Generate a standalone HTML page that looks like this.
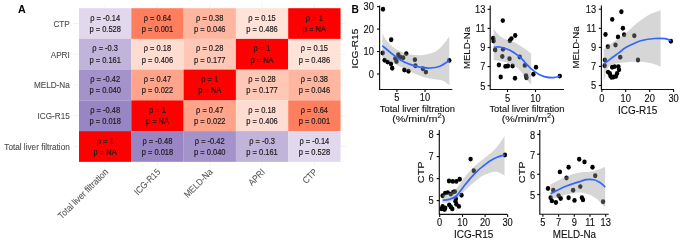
<!DOCTYPE html>
<html><head><meta charset="utf-8"><title>Figure</title>
<style>
html,body{margin:0;padding:0;background:#fff;}
body{width:685px;height:245px;overflow:hidden;font-family:"Liberation Sans", sans-serif;}
svg{display:block;will-change:transform;}
</style></head><body>
<svg width="685" height="245" viewBox="0 0 685 245">
<rect width="685" height="245" fill="#fff"/>
<line x1="105.15" y1="3.8" x2="105.15" y2="166.2" stroke="#EBEBEB" stroke-width="0.6"/>
<line x1="157.45" y1="3.8" x2="157.45" y2="166.2" stroke="#EBEBEB" stroke-width="0.6"/>
<line x1="209.75" y1="3.8" x2="209.75" y2="166.2" stroke="#EBEBEB" stroke-width="0.6"/>
<line x1="262.05" y1="3.8" x2="262.05" y2="166.2" stroke="#EBEBEB" stroke-width="0.6"/>
<line x1="314.35" y1="3.8" x2="314.35" y2="166.2" stroke="#EBEBEB" stroke-width="0.6"/>
<line x1="73.5" y1="23.55" x2="346" y2="23.55" stroke="#EBEBEB" stroke-width="0.6"/>
<line x1="73.5" y1="54.25" x2="346" y2="54.25" stroke="#EBEBEB" stroke-width="0.6"/>
<line x1="73.5" y1="85.00" x2="346" y2="85.00" stroke="#EBEBEB" stroke-width="0.6"/>
<line x1="73.5" y1="115.75" x2="346" y2="115.75" stroke="#EBEBEB" stroke-width="0.6"/>
<line x1="73.5" y1="146.45" x2="346" y2="146.45" stroke="#EBEBEB" stroke-width="0.6"/>
<rect x="79.00" y="8.20" width="52.35" height="30.75" fill="#E1D8ED"/>
<rect x="131.30" y="8.20" width="52.35" height="30.75" fill="#FF7E5E"/>
<rect x="183.60" y="8.20" width="52.35" height="30.75" fill="#FFB6A0"/>
<rect x="235.90" y="8.20" width="52.35" height="30.75" fill="#FFE2D8"/>
<rect x="288.20" y="8.20" width="52.35" height="30.75" fill="#FF0000"/>
<rect x="79.00" y="38.90" width="52.35" height="30.75" fill="#C1B4DA"/>
<rect x="131.30" y="38.90" width="52.35" height="30.75" fill="#FFDCD2"/>
<rect x="183.60" y="38.90" width="52.35" height="30.75" fill="#FFC8B6"/>
<rect x="235.90" y="38.90" width="52.35" height="30.75" fill="#FF0000"/>
<rect x="288.20" y="38.90" width="52.35" height="30.75" fill="#FFE2D8"/>
<rect x="79.00" y="69.60" width="52.35" height="30.85" fill="#A492CA"/>
<rect x="131.30" y="69.60" width="52.35" height="30.85" fill="#FFA48A"/>
<rect x="183.60" y="69.60" width="52.35" height="30.85" fill="#FF0000"/>
<rect x="235.90" y="69.60" width="52.35" height="30.85" fill="#FFC8B6"/>
<rect x="288.20" y="69.60" width="52.35" height="30.85" fill="#FFB6A0"/>
<rect x="79.00" y="100.40" width="52.35" height="30.75" fill="#9A85C4"/>
<rect x="131.30" y="100.40" width="52.35" height="30.75" fill="#FF0000"/>
<rect x="183.60" y="100.40" width="52.35" height="30.75" fill="#FFA48A"/>
<rect x="235.90" y="100.40" width="52.35" height="30.75" fill="#FFDCD2"/>
<rect x="288.20" y="100.40" width="52.35" height="30.75" fill="#FF7E5E"/>
<rect x="79.00" y="131.10" width="52.35" height="30.75" fill="#FF0000"/>
<rect x="131.30" y="131.10" width="52.35" height="30.75" fill="#9A85C4"/>
<rect x="183.60" y="131.10" width="52.35" height="30.75" fill="#A492CA"/>
<rect x="235.90" y="131.10" width="52.35" height="30.75" fill="#C1B4DA"/>
<rect x="288.20" y="131.10" width="52.35" height="30.75" fill="#E1D8ED"/>
<g font-family='"Liberation Sans", sans-serif' font-size="7.5" fill="#1a1a1a" stroke="#1a1a1a" stroke-width="0.15" text-anchor="middle">
<text transform="translate(105.15,20.65) scale(1,1.120)" x="0" y="0" text-anchor="middle">ρ = -0.14</text>
<text transform="translate(105.15,31.95) scale(1,1.120)" x="0" y="0" text-anchor="middle">p = 0.528</text>
<text transform="translate(157.45,20.65) scale(1,1.120)" x="0" y="0" text-anchor="middle">ρ = 0.64</text>
<text transform="translate(157.45,31.95) scale(1,1.120)" x="0" y="0" text-anchor="middle">p = 0.001</text>
<text transform="translate(209.75,20.65) scale(1,1.120)" x="0" y="0" text-anchor="middle">ρ = 0.38</text>
<text transform="translate(209.75,31.95) scale(1,1.120)" x="0" y="0" text-anchor="middle">p = 0.046</text>
<text transform="translate(262.05,20.65) scale(1,1.120)" x="0" y="0" text-anchor="middle">ρ = 0.15</text>
<text transform="translate(262.05,31.95) scale(1,1.120)" x="0" y="0" text-anchor="middle">p = 0.486</text>
<text transform="translate(314.35,20.65) scale(1,1.120)" x="0" y="0" text-anchor="middle">ρ = 1</text>
<text transform="translate(314.35,31.95) scale(1,1.120)" x="0" y="0" text-anchor="middle">p = NA</text>
<text transform="translate(105.15,51.35) scale(1,1.120)" x="0" y="0" text-anchor="middle">ρ = -0.3</text>
<text transform="translate(105.15,62.65) scale(1,1.120)" x="0" y="0" text-anchor="middle">p = 0.161</text>
<text transform="translate(157.45,51.35) scale(1,1.120)" x="0" y="0" text-anchor="middle">ρ = 0.18</text>
<text transform="translate(157.45,62.65) scale(1,1.120)" x="0" y="0" text-anchor="middle">p = 0.406</text>
<text transform="translate(209.75,51.35) scale(1,1.120)" x="0" y="0" text-anchor="middle">ρ = 0.28</text>
<text transform="translate(209.75,62.65) scale(1,1.120)" x="0" y="0" text-anchor="middle">p = 0.177</text>
<text transform="translate(262.05,51.35) scale(1,1.120)" x="0" y="0" text-anchor="middle">ρ = 1</text>
<text transform="translate(262.05,62.65) scale(1,1.120)" x="0" y="0" text-anchor="middle">p = NA</text>
<text transform="translate(314.35,51.35) scale(1,1.120)" x="0" y="0" text-anchor="middle">ρ = 0.15</text>
<text transform="translate(314.35,62.65) scale(1,1.120)" x="0" y="0" text-anchor="middle">p = 0.486</text>
<text transform="translate(105.15,82.10) scale(1,1.120)" x="0" y="0" text-anchor="middle">ρ = -0.42</text>
<text transform="translate(105.15,93.40) scale(1,1.120)" x="0" y="0" text-anchor="middle">p = 0.040</text>
<text transform="translate(157.45,82.10) scale(1,1.120)" x="0" y="0" text-anchor="middle">ρ = 0.47</text>
<text transform="translate(157.45,93.40) scale(1,1.120)" x="0" y="0" text-anchor="middle">p = 0.022</text>
<text transform="translate(209.75,82.10) scale(1,1.120)" x="0" y="0" text-anchor="middle">ρ = 1</text>
<text transform="translate(209.75,93.40) scale(1,1.120)" x="0" y="0" text-anchor="middle">p = NA</text>
<text transform="translate(262.05,82.10) scale(1,1.120)" x="0" y="0" text-anchor="middle">ρ = 0.28</text>
<text transform="translate(262.05,93.40) scale(1,1.120)" x="0" y="0" text-anchor="middle">p = 0.177</text>
<text transform="translate(314.35,82.10) scale(1,1.120)" x="0" y="0" text-anchor="middle">ρ = 0.38</text>
<text transform="translate(314.35,93.40) scale(1,1.120)" x="0" y="0" text-anchor="middle">p = 0.046</text>
<text transform="translate(105.15,112.85) scale(1,1.120)" x="0" y="0" text-anchor="middle">ρ = -0.48</text>
<text transform="translate(105.15,124.15) scale(1,1.120)" x="0" y="0" text-anchor="middle">p = 0.018</text>
<text transform="translate(157.45,112.85) scale(1,1.120)" x="0" y="0" text-anchor="middle">ρ = 1</text>
<text transform="translate(157.45,124.15) scale(1,1.120)" x="0" y="0" text-anchor="middle">p = NA</text>
<text transform="translate(209.75,112.85) scale(1,1.120)" x="0" y="0" text-anchor="middle">ρ = 0.47</text>
<text transform="translate(209.75,124.15) scale(1,1.120)" x="0" y="0" text-anchor="middle">p = 0.022</text>
<text transform="translate(262.05,112.85) scale(1,1.120)" x="0" y="0" text-anchor="middle">ρ = 0.18</text>
<text transform="translate(262.05,124.15) scale(1,1.120)" x="0" y="0" text-anchor="middle">p = 0.406</text>
<text transform="translate(314.35,112.85) scale(1,1.120)" x="0" y="0" text-anchor="middle">ρ = 0.64</text>
<text transform="translate(314.35,124.15) scale(1,1.120)" x="0" y="0" text-anchor="middle">p = 0.001</text>
<text transform="translate(105.15,143.55) scale(1,1.120)" x="0" y="0" text-anchor="middle">ρ = 1</text>
<text transform="translate(105.15,154.85) scale(1,1.120)" x="0" y="0" text-anchor="middle">p = NA</text>
<text transform="translate(157.45,143.55) scale(1,1.120)" x="0" y="0" text-anchor="middle">ρ = -0.48</text>
<text transform="translate(157.45,154.85) scale(1,1.120)" x="0" y="0" text-anchor="middle">p = 0.018</text>
<text transform="translate(209.75,143.55) scale(1,1.120)" x="0" y="0" text-anchor="middle">ρ = -0.42</text>
<text transform="translate(209.75,154.85) scale(1,1.120)" x="0" y="0" text-anchor="middle">p = 0.040</text>
<text transform="translate(262.05,143.55) scale(1,1.120)" x="0" y="0" text-anchor="middle">ρ = -0.3</text>
<text transform="translate(262.05,154.85) scale(1,1.120)" x="0" y="0" text-anchor="middle">p = 0.161</text>
<text transform="translate(314.35,143.55) scale(1,1.120)" x="0" y="0" text-anchor="middle">ρ = -0.14</text>
<text transform="translate(314.35,154.85) scale(1,1.120)" x="0" y="0" text-anchor="middle">p = 0.528</text>
</g>
<g font-family='"Liberation Sans", sans-serif' font-size="8.2" fill="#4a4a4a" stroke="#4a4a4a" stroke-width="0.08" text-anchor="end">
<text transform="translate(69.80,26.95) scale(1,1.120)" x="0" y="0" text-anchor="end">CTP</text>
<text transform="translate(69.80,57.65) scale(1,1.120)" x="0" y="0" text-anchor="end">APRI</text>
<text transform="translate(69.80,88.40) scale(1,1.120)" x="0" y="0" text-anchor="end">MELD-Na</text>
<text transform="translate(69.80,119.15) scale(1,1.120)" x="0" y="0" text-anchor="end">ICG-R15</text>
<text transform="translate(69.80,149.85) scale(1,1.120)" x="0" y="0" text-anchor="end">Total liver filtration</text>
</g>
<g font-family='"Liberation Sans", sans-serif' font-size="8.3" fill="#555" stroke="#555" stroke-width="0.06" text-anchor="end">
<text transform="translate(104.15,168.00) rotate(-45) scale(1,1.120)" x="0" y="5.8">Total liver filtration</text>
<text transform="translate(156.45,168.00) rotate(-45) scale(1,1.120)" x="0" y="5.8">ICG-R15</text>
<text transform="translate(208.75,168.00) rotate(-45) scale(1,1.120)" x="0" y="5.8">MELD-Na</text>
<text transform="translate(261.05,168.00) rotate(-45) scale(1,1.120)" x="0" y="5.8">APRI</text>
<text transform="translate(313.35,168.00) rotate(-45) scale(1,1.120)" x="0" y="5.8">CTP</text>
</g>
<text x="18.1" y="12.7" font-family='"Liberation Sans", sans-serif' font-size="10.7" font-weight="bold" fill="#000">A</text>
<ellipse cx="383.00" cy="9.20" rx="2.20" ry="2.45" fill="#000"/>
<ellipse cx="391.20" cy="39.80" rx="2.20" ry="2.45" fill="#000"/>
<ellipse cx="382.70" cy="53.00" rx="2.20" ry="2.45" fill="#000"/>
<ellipse cx="406.30" cy="53.60" rx="2.20" ry="2.45" fill="#000"/>
<ellipse cx="398.30" cy="54.80" rx="2.20" ry="2.45" fill="#000"/>
<ellipse cx="400.20" cy="57.20" rx="2.20" ry="2.45" fill="#000"/>
<ellipse cx="403.20" cy="57.80" rx="2.20" ry="2.45" fill="#000"/>
<ellipse cx="395.30" cy="58.50" rx="2.20" ry="2.45" fill="#000"/>
<ellipse cx="396.50" cy="61.50" rx="2.20" ry="2.45" fill="#000"/>
<ellipse cx="384.60" cy="60.30" rx="2.20" ry="2.45" fill="#000"/>
<ellipse cx="387.60" cy="62.10" rx="2.20" ry="2.45" fill="#000"/>
<ellipse cx="391.00" cy="64.00" rx="2.20" ry="2.45" fill="#000"/>
<ellipse cx="392.20" cy="68.20" rx="2.20" ry="2.45" fill="#000"/>
<ellipse cx="404.40" cy="70.00" rx="2.20" ry="2.45" fill="#000"/>
<ellipse cx="408.50" cy="71.20" rx="2.20" ry="2.45" fill="#000"/>
<ellipse cx="414.90" cy="59.70" rx="2.20" ry="2.45" fill="#000"/>
<ellipse cx="415.40" cy="65.70" rx="2.20" ry="2.45" fill="#000"/>
<ellipse cx="422.90" cy="68.70" rx="2.20" ry="2.45" fill="#000"/>
<ellipse cx="425.90" cy="72.10" rx="2.20" ry="2.45" fill="#000"/>
<ellipse cx="449.30" cy="60.40" rx="2.20" ry="2.45" fill="#000"/>
<path d="M382.30,33.60 C383.02,34.78 384.93,38.57 386.60,40.70 C388.27,42.83 390.17,44.68 392.30,46.40 C394.43,48.12 397.02,49.77 399.40,51.00 C401.78,52.23 403.02,53.10 406.60,53.80 C410.18,54.50 416.15,55.53 420.90,55.20 C425.65,54.87 431.42,53.53 435.10,51.80 C438.78,50.07 440.63,47.35 443.00,44.80 C445.37,42.25 448.25,37.88 449.30,36.50 L449.30,85.30  C448.42,84.62 445.88,82.12 444.00,81.20 C442.12,80.28 440.33,80.25 438.00,79.80 C435.67,79.35 432.33,78.93 430.00,78.50 C427.67,78.07 426.17,77.85 424.00,77.20 C421.83,76.55 419.33,75.58 417.00,74.60 C414.67,73.62 412.17,72.35 410.00,71.30 C407.83,70.25 406.33,69.43 404.00,68.30 C401.67,67.17 398.33,65.63 396.00,64.50 C393.67,63.37 392.28,62.62 390.00,61.50 C387.72,60.38 383.58,58.42 382.30,57.80 Z" fill="#999999" fill-opacity="0.4"/>
<path d="M382.30,45.70 C383.97,47.08 389.20,51.57 392.30,54.00 C395.40,56.43 397.95,58.57 400.90,60.30 C403.85,62.03 406.82,63.25 410.00,64.40 C413.18,65.55 416.67,66.60 420.00,67.20 C423.33,67.80 426.67,68.17 430.00,68.00 C433.33,67.83 436.78,67.43 440.00,66.20 C443.22,64.97 447.75,61.53 449.30,60.60" fill="none" stroke="#3366FF" stroke-width="1.7"/>
<path d="M379.60,5.50 V89.45 H452.30" fill="none" stroke="#111" stroke-width="1.15"/>
<line x1="377.00" y1="74.00" x2="379.60" y2="74.00" stroke="#111" stroke-width="1.15"/>
<line x1="377.00" y1="51.55" x2="379.60" y2="51.55" stroke="#111" stroke-width="1.15"/>
<line x1="377.00" y1="29.10" x2="379.60" y2="29.10" stroke="#111" stroke-width="1.15"/>
<line x1="377.00" y1="6.65" x2="379.60" y2="6.65" stroke="#111" stroke-width="1.15"/>
<line x1="396.90" y1="89.45" x2="396.90" y2="92.05" stroke="#111" stroke-width="1.15"/>
<line x1="425.00" y1="89.45" x2="425.00" y2="92.05" stroke="#111" stroke-width="1.15"/>
<g font-family='"Liberation Sans", sans-serif' font-size="9.30" fill="#111" stroke="#111" stroke-width="0.12">
<text transform="translate(373.90,77.80) scale(1,1.150)" x="0" y="0" text-anchor="end">0</text>
<text transform="translate(373.90,55.35) scale(1,1.150)" x="0" y="0" text-anchor="end">10</text>
<text transform="translate(373.90,32.90) scale(1,1.150)" x="0" y="0" text-anchor="end">20</text>
<text transform="translate(373.90,10.45) scale(1,1.150)" x="0" y="0" text-anchor="end">30</text>
<text transform="translate(396.90,101.45) scale(1,1.150)" x="0" y="0" text-anchor="middle">5</text>
<text transform="translate(425.00,101.45) scale(1,1.150)" x="0" y="0" text-anchor="middle">10</text>
<text transform="translate(358.00,48.60) rotate(-90) scale(1.050,1)" x="0" y="0" text-anchor="middle" font-size="9.60">ICG-R15</text>
<text transform="translate(417.40,111.80) scale(1,1.030)" x="0" y="0" text-anchor="middle" font-size="9.40">Total liver filtration</text>
<text transform="translate(418.70,122.00) scale(1.120,1.020)" x="0" y="0" text-anchor="middle" font-size="9.60"><tspan>(%/min/m</tspan><tspan font-size="6.72" dy="-3.7">2</tspan><tspan dy="3.7">)</tspan></text>
</g>
<ellipse cx="502.80" cy="20.60" rx="2.20" ry="2.45" fill="#000"/>
<ellipse cx="493.20" cy="38.20" rx="2.20" ry="2.45" fill="#000"/>
<ellipse cx="493.60" cy="41.00" rx="2.20" ry="2.45" fill="#000"/>
<ellipse cx="509.80" cy="40.80" rx="2.20" ry="2.45" fill="#000"/>
<ellipse cx="511.40" cy="38.60" rx="2.20" ry="2.45" fill="#000"/>
<ellipse cx="515.20" cy="35.50" rx="2.20" ry="2.45" fill="#000"/>
<ellipse cx="495.20" cy="50.00" rx="2.20" ry="2.45" fill="#000"/>
<ellipse cx="503.00" cy="49.20" rx="2.20" ry="2.45" fill="#000"/>
<ellipse cx="502.30" cy="56.50" rx="2.20" ry="2.45" fill="#000"/>
<ellipse cx="509.50" cy="58.80" rx="2.20" ry="2.45" fill="#000"/>
<ellipse cx="519.70" cy="57.00" rx="2.20" ry="2.45" fill="#000"/>
<ellipse cx="498.90" cy="65.00" rx="2.20" ry="2.45" fill="#000"/>
<ellipse cx="505.40" cy="66.40" rx="2.20" ry="2.45" fill="#000"/>
<ellipse cx="507.90" cy="66.00" rx="2.20" ry="2.45" fill="#000"/>
<ellipse cx="512.60" cy="66.00" rx="2.20" ry="2.45" fill="#000"/>
<ellipse cx="524.80" cy="65.40" rx="2.20" ry="2.45" fill="#000"/>
<ellipse cx="536.00" cy="67.20" rx="2.20" ry="2.45" fill="#000"/>
<ellipse cx="500.70" cy="77.00" rx="2.20" ry="2.45" fill="#000"/>
<ellipse cx="515.00" cy="78.30" rx="2.20" ry="2.45" fill="#000"/>
<ellipse cx="526.00" cy="75.60" rx="2.20" ry="2.45" fill="#000"/>
<ellipse cx="526.50" cy="77.70" rx="2.20" ry="2.45" fill="#000"/>
<ellipse cx="533.40" cy="74.20" rx="2.20" ry="2.45" fill="#000"/>
<ellipse cx="559.80" cy="76.10" rx="2.20" ry="2.45" fill="#000"/>
<path d="M493.70,28.90 C494.32,29.68 495.97,32.15 497.40,33.60 C498.83,35.05 500.67,36.55 502.30,37.60 C503.93,38.65 505.17,39.07 507.20,39.90 C509.23,40.73 512.27,41.57 514.50,42.60 C516.73,43.63 518.55,44.82 520.60,46.10 C522.65,47.38 525.03,49.05 526.80,50.30 C528.57,51.55 530.47,53.05 531.20,53.60 L531.20,84.50  C530.53,83.80 528.68,82.15 527.20,80.30 C525.72,78.45 524.13,75.65 522.30,73.40 C520.47,71.15 518.85,68.65 516.20,66.80 C513.55,64.95 509.10,63.27 506.40,62.30 C503.70,61.33 502.12,61.38 500.00,61.00 C497.88,60.62 494.75,60.17 493.70,60.00 Z" fill="#999999" fill-opacity="0.4"/>
<path d="M493.70,47.40 C494.65,47.33 496.78,46.57 499.40,47.00 C502.02,47.43 506.07,48.40 509.40,50.00 C512.73,51.60 516.85,54.60 519.40,56.60 C521.95,58.60 523.27,60.50 524.70,62.00 C526.13,63.50 526.95,64.50 528.00,65.60 C529.05,66.70 529.82,67.55 531.00,68.60 C532.18,69.65 533.60,70.85 535.10,71.90 C536.60,72.95 538.33,74.08 540.00,74.90 C541.67,75.72 542.85,76.35 545.10,76.80 C547.35,77.25 551.05,77.72 553.50,77.60 C555.95,77.48 558.75,76.35 559.80,76.10" fill="none" stroke="#3366FF" stroke-width="1.7"/>
<path d="M490.20,5.50 V89.50 H564.10" fill="none" stroke="#111" stroke-width="1.15"/>
<line x1="487.60" y1="85.70" x2="490.20" y2="85.70" stroke="#111" stroke-width="1.15"/>
<line x1="487.60" y1="66.60" x2="490.20" y2="66.60" stroke="#111" stroke-width="1.15"/>
<line x1="487.60" y1="47.50" x2="490.20" y2="47.50" stroke="#111" stroke-width="1.15"/>
<line x1="487.60" y1="28.40" x2="490.20" y2="28.40" stroke="#111" stroke-width="1.15"/>
<line x1="487.60" y1="9.30" x2="490.20" y2="9.30" stroke="#111" stroke-width="1.15"/>
<line x1="507.50" y1="89.50" x2="507.50" y2="92.10" stroke="#111" stroke-width="1.15"/>
<line x1="535.50" y1="89.50" x2="535.50" y2="92.10" stroke="#111" stroke-width="1.15"/>
<g font-family='"Liberation Sans", sans-serif' font-size="9.30" fill="#111" stroke="#111" stroke-width="0.12">
<text transform="translate(485.40,89.50) scale(1,1.150)" x="0" y="0" text-anchor="end">5</text>
<text transform="translate(485.40,70.40) scale(1,1.150)" x="0" y="0" text-anchor="end">7</text>
<text transform="translate(485.40,51.30) scale(1,1.150)" x="0" y="0" text-anchor="end">9</text>
<text transform="translate(485.40,32.20) scale(1,1.150)" x="0" y="0" text-anchor="end">11</text>
<text transform="translate(485.40,13.10) scale(1,1.150)" x="0" y="0" text-anchor="end">13</text>
<text transform="translate(507.50,101.50) scale(1,1.150)" x="0" y="0" text-anchor="middle">5</text>
<text transform="translate(535.50,101.50) scale(1,1.150)" x="0" y="0" text-anchor="middle">10</text>
<text transform="translate(469.50,48.00) rotate(-90) scale(1.000,1)" x="0" y="0" text-anchor="middle" font-size="9.60">MELD-Na</text>
<text transform="translate(527.00,111.80) scale(1,1.030)" x="0" y="0" text-anchor="middle" font-size="9.40">Total liver filtration</text>
<text transform="translate(528.20,122.00) scale(1.120,1.020)" x="0" y="0" text-anchor="middle" font-size="9.60"><tspan>(%/min/m</tspan><tspan font-size="6.72" dy="-3.7">2</tspan><tspan dy="3.7">)</tspan></text>
</g>
<ellipse cx="621.40" cy="11.80" rx="2.20" ry="2.45" fill="#000"/>
<ellipse cx="612.20" cy="19.40" rx="2.20" ry="2.45" fill="#000"/>
<ellipse cx="622.90" cy="28.20" rx="2.20" ry="2.45" fill="#000"/>
<ellipse cx="605.50" cy="34.50" rx="2.20" ry="2.45" fill="#000"/>
<ellipse cx="618.00" cy="36.90" rx="2.20" ry="2.45" fill="#000"/>
<ellipse cx="624.10" cy="34.70" rx="2.20" ry="2.45" fill="#000"/>
<ellipse cx="634.30" cy="35.70" rx="2.20" ry="2.45" fill="#000"/>
<ellipse cx="607.90" cy="46.70" rx="2.20" ry="2.45" fill="#000"/>
<ellipse cx="615.50" cy="45.00" rx="2.20" ry="2.45" fill="#000"/>
<ellipse cx="604.90" cy="59.90" rx="2.20" ry="2.45" fill="#000"/>
<ellipse cx="604.70" cy="65.80" rx="2.20" ry="2.45" fill="#000"/>
<ellipse cx="620.20" cy="57.30" rx="2.20" ry="2.45" fill="#000"/>
<ellipse cx="638.00" cy="60.00" rx="2.20" ry="2.45" fill="#000"/>
<ellipse cx="670.90" cy="41.20" rx="2.20" ry="2.45" fill="#000"/>
<ellipse cx="608.00" cy="72.10" rx="2.20" ry="2.45" fill="#000"/>
<ellipse cx="610.40" cy="75.80" rx="2.20" ry="2.45" fill="#000"/>
<ellipse cx="611.60" cy="77.40" rx="2.20" ry="2.45" fill="#000"/>
<ellipse cx="612.20" cy="67.20" rx="2.20" ry="2.45" fill="#000"/>
<ellipse cx="614.70" cy="66.60" rx="2.20" ry="2.45" fill="#000"/>
<ellipse cx="618.40" cy="66.60" rx="2.20" ry="2.45" fill="#000"/>
<ellipse cx="619.00" cy="69.70" rx="2.20" ry="2.45" fill="#000"/>
<ellipse cx="617.10" cy="73.40" rx="2.20" ry="2.45" fill="#000"/>
<ellipse cx="615.90" cy="76.40" rx="2.20" ry="2.45" fill="#000"/>
<ellipse cx="613.50" cy="77.00" rx="2.20" ry="2.45" fill="#000"/>
<ellipse cx="609.80" cy="73.40" rx="2.20" ry="2.45" fill="#000"/>
<path d="M603.70,49.00 C605.42,47.75 610.53,43.95 614.00,41.50 C617.47,39.05 620.70,37.33 624.50,34.30 C628.30,31.27 632.70,26.57 636.80,23.30 C640.90,20.03 645.13,16.88 649.10,14.70 C653.07,12.52 658.68,10.95 660.60,10.20 L660.60,66.50  C658.83,65.92 653.70,63.78 650.00,63.00 C646.30,62.22 641.93,61.97 638.40,61.80 C634.87,61.63 632.00,61.80 628.80,62.00 C625.60,62.20 621.83,62.62 619.20,63.00 C616.57,63.38 614.70,63.67 613.00,64.30 C611.30,64.93 610.17,65.52 609.00,66.80 C607.83,68.08 606.88,69.40 606.00,72.00 C605.12,74.60 604.08,80.67 603.70,82.40 Z" fill="#999999" fill-opacity="0.4"/>
<path d="M603.70,64.00 C605.08,62.97 609.42,59.70 612.00,57.80 C614.58,55.90 617.03,54.23 619.20,52.60 C621.37,50.97 622.77,49.40 625.00,48.00 C627.23,46.60 629.82,45.45 632.60,44.20 C635.38,42.95 637.97,41.45 641.70,40.50 C645.43,39.55 651.12,38.82 655.00,38.50 C658.88,38.18 662.35,38.22 665.00,38.60 C667.65,38.98 669.92,40.43 670.90,40.80" fill="none" stroke="#3366FF" stroke-width="1.7"/>
<path d="M601.40,5.50 V89.50 H674.00" fill="none" stroke="#111" stroke-width="1.15"/>
<line x1="598.80" y1="85.50" x2="601.40" y2="85.50" stroke="#111" stroke-width="1.15"/>
<line x1="598.80" y1="66.40" x2="601.40" y2="66.40" stroke="#111" stroke-width="1.15"/>
<line x1="598.80" y1="47.40" x2="601.40" y2="47.40" stroke="#111" stroke-width="1.15"/>
<line x1="598.80" y1="28.30" x2="601.40" y2="28.30" stroke="#111" stroke-width="1.15"/>
<line x1="598.80" y1="9.20" x2="601.40" y2="9.20" stroke="#111" stroke-width="1.15"/>
<line x1="601.90" y1="89.50" x2="601.90" y2="92.10" stroke="#111" stroke-width="1.15"/>
<line x1="625.70" y1="89.50" x2="625.70" y2="92.10" stroke="#111" stroke-width="1.15"/>
<line x1="649.70" y1="89.50" x2="649.70" y2="92.10" stroke="#111" stroke-width="1.15"/>
<line x1="673.60" y1="89.50" x2="673.60" y2="92.10" stroke="#111" stroke-width="1.15"/>
<g font-family='"Liberation Sans", sans-serif' font-size="9.30" fill="#111" stroke="#111" stroke-width="0.12">
<text transform="translate(596.10,89.30) scale(1,1.150)" x="0" y="0" text-anchor="end">5</text>
<text transform="translate(596.10,70.20) scale(1,1.150)" x="0" y="0" text-anchor="end">7</text>
<text transform="translate(596.10,51.20) scale(1,1.150)" x="0" y="0" text-anchor="end">9</text>
<text transform="translate(596.10,32.10) scale(1,1.150)" x="0" y="0" text-anchor="end">11</text>
<text transform="translate(596.10,13.00) scale(1,1.150)" x="0" y="0" text-anchor="end">13</text>
<text transform="translate(601.90,101.50) scale(1,1.150)" x="0" y="0" text-anchor="middle">0</text>
<text transform="translate(625.70,101.50) scale(1,1.150)" x="0" y="0" text-anchor="middle">10</text>
<text transform="translate(649.70,101.50) scale(1,1.150)" x="0" y="0" text-anchor="middle">20</text>
<text transform="translate(673.60,101.50) scale(1,1.150)" x="0" y="0" text-anchor="middle">30</text>
<text transform="translate(579.40,47.50) rotate(-90) scale(1.000,1)" x="0" y="0" text-anchor="middle" font-size="9.60">MELD-Na</text>
<text transform="translate(637.60,113.50) scale(1,1.160)" x="0" y="0" text-anchor="middle" font-size="10.00">ICG-R15</text>
</g>
<ellipse cx="470.60" cy="159.10" rx="2.20" ry="2.45" fill="#000"/>
<ellipse cx="473.80" cy="170.80" rx="2.20" ry="2.45" fill="#000"/>
<ellipse cx="504.90" cy="155.00" rx="2.20" ry="2.45" fill="#000"/>
<ellipse cx="449.00" cy="181.00" rx="2.20" ry="2.45" fill="#000"/>
<ellipse cx="452.70" cy="181.40" rx="2.20" ry="2.45" fill="#000"/>
<ellipse cx="456.30" cy="181.40" rx="2.20" ry="2.45" fill="#000"/>
<ellipse cx="459.70" cy="179.20" rx="2.20" ry="2.45" fill="#000"/>
<ellipse cx="442.60" cy="195.70" rx="2.20" ry="2.45" fill="#000"/>
<ellipse cx="445.20" cy="193.10" rx="2.20" ry="2.45" fill="#000"/>
<ellipse cx="447.70" cy="192.60" rx="2.20" ry="2.45" fill="#000"/>
<ellipse cx="450.80" cy="194.10" rx="2.20" ry="2.45" fill="#000"/>
<ellipse cx="453.30" cy="192.10" rx="2.20" ry="2.45" fill="#000"/>
<ellipse cx="454.90" cy="191.60" rx="2.20" ry="2.45" fill="#000"/>
<ellipse cx="461.50" cy="195.20" rx="2.20" ry="2.45" fill="#000"/>
<ellipse cx="455.90" cy="198.70" rx="2.20" ry="2.45" fill="#000"/>
<ellipse cx="441.60" cy="208.90" rx="2.20" ry="2.45" fill="#000"/>
<ellipse cx="442.60" cy="206.40" rx="2.20" ry="2.45" fill="#000"/>
<ellipse cx="444.60" cy="209.50" rx="2.20" ry="2.45" fill="#000"/>
<ellipse cx="445.20" cy="207.90" rx="2.20" ry="2.45" fill="#000"/>
<ellipse cx="449.20" cy="204.90" rx="2.20" ry="2.45" fill="#000"/>
<ellipse cx="450.80" cy="206.90" rx="2.20" ry="2.45" fill="#000"/>
<ellipse cx="452.30" cy="208.90" rx="2.20" ry="2.45" fill="#000"/>
<ellipse cx="455.40" cy="201.30" rx="2.20" ry="2.45" fill="#000"/>
<ellipse cx="456.40" cy="204.30" rx="2.20" ry="2.45" fill="#000"/>
<ellipse cx="458.90" cy="206.40" rx="2.20" ry="2.45" fill="#000"/>
<path d="M442.60,195.00 C444.17,194.50 449.43,193.42 452.00,192.00 C454.57,190.58 455.92,188.92 458.00,186.50 C460.08,184.08 461.78,180.83 464.50,177.50 C467.22,174.17 470.72,169.92 474.30,166.50 C477.88,163.08 482.38,160.08 486.00,157.00 C489.62,153.92 492.92,151.45 496.00,148.00 C499.08,144.55 503.08,138.25 504.50,136.30 L504.50,175.50  C503.35,174.90 500.10,172.33 497.60,171.90 C495.10,171.47 492.22,172.13 489.50,172.90 C486.78,173.67 484.02,174.82 481.30,176.50 C478.58,178.18 475.92,180.67 473.20,183.00 C470.48,185.33 467.53,188.08 465.00,190.50 C462.47,192.92 460.50,195.62 458.00,197.50 C455.50,199.38 452.57,200.88 450.00,201.80 C447.43,202.72 443.83,202.80 442.60,203.00 Z" fill="#999999" fill-opacity="0.4"/>
<path d="M442.60,200.30 C443.67,200.15 446.72,200.12 449.00,199.40 C451.28,198.68 453.85,198.15 456.30,196.00 C458.75,193.85 461.25,189.57 463.70,186.50 C466.15,183.43 468.62,180.30 471.00,177.60 C473.38,174.90 475.83,172.32 478.00,170.30 C480.17,168.28 482.08,167.02 484.00,165.50 C485.92,163.98 487.33,162.58 489.50,161.20 C491.67,159.82 494.50,158.23 497.00,157.20 C499.50,156.17 503.25,155.37 504.50,155.00" fill="none" stroke="#3366FF" stroke-width="1.7"/>
<path d="M439.30,130.00 V214.30 H507.30" fill="none" stroke="#111" stroke-width="1.15"/>
<line x1="436.70" y1="200.60" x2="439.30" y2="200.60" stroke="#111" stroke-width="1.15"/>
<line x1="436.70" y1="178.60" x2="439.30" y2="178.60" stroke="#111" stroke-width="1.15"/>
<line x1="436.70" y1="156.60" x2="439.30" y2="156.60" stroke="#111" stroke-width="1.15"/>
<line x1="436.70" y1="134.40" x2="439.30" y2="134.40" stroke="#111" stroke-width="1.15"/>
<line x1="439.70" y1="214.30" x2="439.70" y2="216.90" stroke="#111" stroke-width="1.15"/>
<line x1="462.50" y1="214.30" x2="462.50" y2="216.90" stroke="#111" stroke-width="1.15"/>
<line x1="485.10" y1="214.30" x2="485.10" y2="216.90" stroke="#111" stroke-width="1.15"/>
<line x1="507.60" y1="214.30" x2="507.60" y2="216.90" stroke="#111" stroke-width="1.15"/>
<g font-family='"Liberation Sans", sans-serif' font-size="9.30" fill="#111" stroke="#111" stroke-width="0.12">
<text transform="translate(433.60,204.40) scale(1,1.150)" x="0" y="0" text-anchor="end">5</text>
<text transform="translate(433.60,182.40) scale(1,1.150)" x="0" y="0" text-anchor="end">6</text>
<text transform="translate(433.60,160.40) scale(1,1.150)" x="0" y="0" text-anchor="end">7</text>
<text transform="translate(433.60,138.20) scale(1,1.150)" x="0" y="0" text-anchor="end">8</text>
<text transform="translate(439.70,226.30) scale(1,1.150)" x="0" y="0" text-anchor="middle">0</text>
<text transform="translate(462.50,226.30) scale(1,1.150)" x="0" y="0" text-anchor="middle">10</text>
<text transform="translate(485.10,226.30) scale(1,1.150)" x="0" y="0" text-anchor="middle">20</text>
<text transform="translate(507.60,226.30) scale(1,1.150)" x="0" y="0" text-anchor="middle">30</text>
<text transform="translate(424.00,172.30) rotate(-90) scale(1.140,1)" x="0" y="0" text-anchor="middle" font-size="9.60">CTP</text>
<text transform="translate(473.70,238.10) scale(1,1.150)" x="0" y="0" text-anchor="middle" font-size="10.00">ICG-R15</text>
</g>
<ellipse cx="579.20" cy="159.30" rx="2.20" ry="2.45" fill="#000"/>
<ellipse cx="584.50" cy="161.90" rx="2.20" ry="2.45" fill="#000"/>
<ellipse cx="568.60" cy="167.20" rx="2.20" ry="2.45" fill="#000"/>
<ellipse cx="559.90" cy="171.90" rx="2.20" ry="2.45" fill="#000"/>
<ellipse cx="592.50" cy="167.20" rx="2.20" ry="2.45" fill="#000"/>
<ellipse cx="595.20" cy="175.70" rx="2.20" ry="2.45" fill="#000"/>
<ellipse cx="566.50" cy="178.00" rx="2.20" ry="2.45" fill="#000"/>
<ellipse cx="548.00" cy="188.50" rx="2.20" ry="2.45" fill="#000"/>
<ellipse cx="553.30" cy="190.30" rx="2.20" ry="2.45" fill="#000"/>
<ellipse cx="573.10" cy="190.30" rx="2.20" ry="2.45" fill="#000"/>
<ellipse cx="580.30" cy="186.60" rx="2.20" ry="2.45" fill="#000"/>
<ellipse cx="550.60" cy="197.70" rx="2.20" ry="2.45" fill="#000"/>
<ellipse cx="551.90" cy="200.90" rx="2.20" ry="2.45" fill="#000"/>
<ellipse cx="555.90" cy="202.50" rx="2.20" ry="2.45" fill="#000"/>
<ellipse cx="558.60" cy="195.60" rx="2.20" ry="2.45" fill="#000"/>
<ellipse cx="560.70" cy="198.50" rx="2.20" ry="2.45" fill="#000"/>
<ellipse cx="568.60" cy="197.70" rx="2.20" ry="2.45" fill="#000"/>
<ellipse cx="574.50" cy="200.40" rx="2.20" ry="2.45" fill="#000"/>
<ellipse cx="581.90" cy="197.70" rx="2.20" ry="2.45" fill="#000"/>
<ellipse cx="583.00" cy="199.90" rx="2.20" ry="2.45" fill="#000"/>
<ellipse cx="603.10" cy="201.70" rx="2.20" ry="2.45" fill="#000"/>
<path d="M550.60,184.50 C553.25,183.17 561.63,178.50 566.50,176.50 C571.37,174.50 575.38,173.38 579.80,172.50 C584.22,171.62 588.77,172.12 593.00,171.20 C597.23,170.28 603.17,167.70 605.20,167.00 L605.20,207.50  C604.17,206.42 601.03,202.82 599.00,201.00 C596.97,199.18 595.17,197.83 593.00,196.60 C590.83,195.37 588.20,194.27 586.00,193.60 C583.80,192.93 581.97,192.67 579.80,192.60 C577.63,192.53 575.22,192.88 573.00,193.20 C570.78,193.52 569.00,193.82 566.50,194.50 C564.00,195.18 560.65,196.58 558.00,197.30 C555.35,198.02 551.83,198.55 550.60,198.80 Z" fill="#999999" fill-opacity="0.4"/>
<path d="M550.60,193.80 C551.83,193.15 555.35,191.20 558.00,189.90 C560.65,188.60 563.83,187.08 566.50,186.00 C569.17,184.92 571.58,184.20 574.00,183.40 C576.42,182.60 579.00,181.82 581.00,181.20 C583.00,180.58 584.50,180.02 586.00,179.70 C587.50,179.38 588.67,179.28 590.00,179.30 C591.33,179.32 592.67,179.45 594.00,179.80 C595.33,180.15 596.75,180.77 598.00,181.40 C599.25,182.03 600.30,182.63 601.50,183.60 C602.70,184.57 604.58,186.60 605.20,187.20" fill="none" stroke="#3366FF" stroke-width="1.7"/>
<path d="M539.80,130.00 V214.20 H608.70" fill="none" stroke="#111" stroke-width="1.15"/>
<line x1="537.20" y1="194.50" x2="539.80" y2="194.50" stroke="#111" stroke-width="1.15"/>
<line x1="537.20" y1="174.30" x2="539.80" y2="174.30" stroke="#111" stroke-width="1.15"/>
<line x1="537.20" y1="154.20" x2="539.80" y2="154.20" stroke="#111" stroke-width="1.15"/>
<line x1="537.20" y1="134.40" x2="539.80" y2="134.40" stroke="#111" stroke-width="1.15"/>
<line x1="542.90" y1="214.20" x2="542.90" y2="216.80" stroke="#111" stroke-width="1.15"/>
<line x1="558.60" y1="214.20" x2="558.60" y2="216.80" stroke="#111" stroke-width="1.15"/>
<line x1="574.30" y1="214.20" x2="574.30" y2="216.80" stroke="#111" stroke-width="1.15"/>
<line x1="590.00" y1="214.20" x2="590.00" y2="216.80" stroke="#111" stroke-width="1.15"/>
<line x1="605.70" y1="214.20" x2="605.70" y2="216.80" stroke="#111" stroke-width="1.15"/>
<g font-family='"Liberation Sans", sans-serif' font-size="9.30" fill="#111" stroke="#111" stroke-width="0.12">
<text transform="translate(535.20,199.00) scale(1,1.150)" x="0" y="0" text-anchor="end">5</text>
<text transform="translate(535.20,178.80) scale(1,1.150)" x="0" y="0" text-anchor="end">6</text>
<text transform="translate(535.20,158.70) scale(1,1.150)" x="0" y="0" text-anchor="end">7</text>
<text transform="translate(535.20,138.90) scale(1,1.150)" x="0" y="0" text-anchor="end">8</text>
<text transform="translate(542.90,226.20) scale(1,1.150)" x="0" y="0" text-anchor="middle">5</text>
<text transform="translate(558.60,226.20) scale(1,1.150)" x="0" y="0" text-anchor="middle">7</text>
<text transform="translate(574.30,226.20) scale(1,1.150)" x="0" y="0" text-anchor="middle">9</text>
<text transform="translate(590.00,226.20) scale(1,1.150)" x="0" y="0" text-anchor="middle">11</text>
<text transform="translate(605.70,226.20) scale(1,1.150)" x="0" y="0" text-anchor="middle">13</text>
<text transform="translate(524.50,172.30) rotate(-90) scale(1.140,1)" x="0" y="0" text-anchor="middle" font-size="9.60">CTP</text>
<text transform="translate(574.40,238.40) scale(1,1.150)" x="0" y="0" text-anchor="middle" font-size="9.85">MELD-Na</text>
</g>
<text x="351.4" y="12.6" font-family='"Liberation Sans", sans-serif' font-size="10.2" font-weight="bold" fill="#000">B</text>
</svg>
</body></html>
